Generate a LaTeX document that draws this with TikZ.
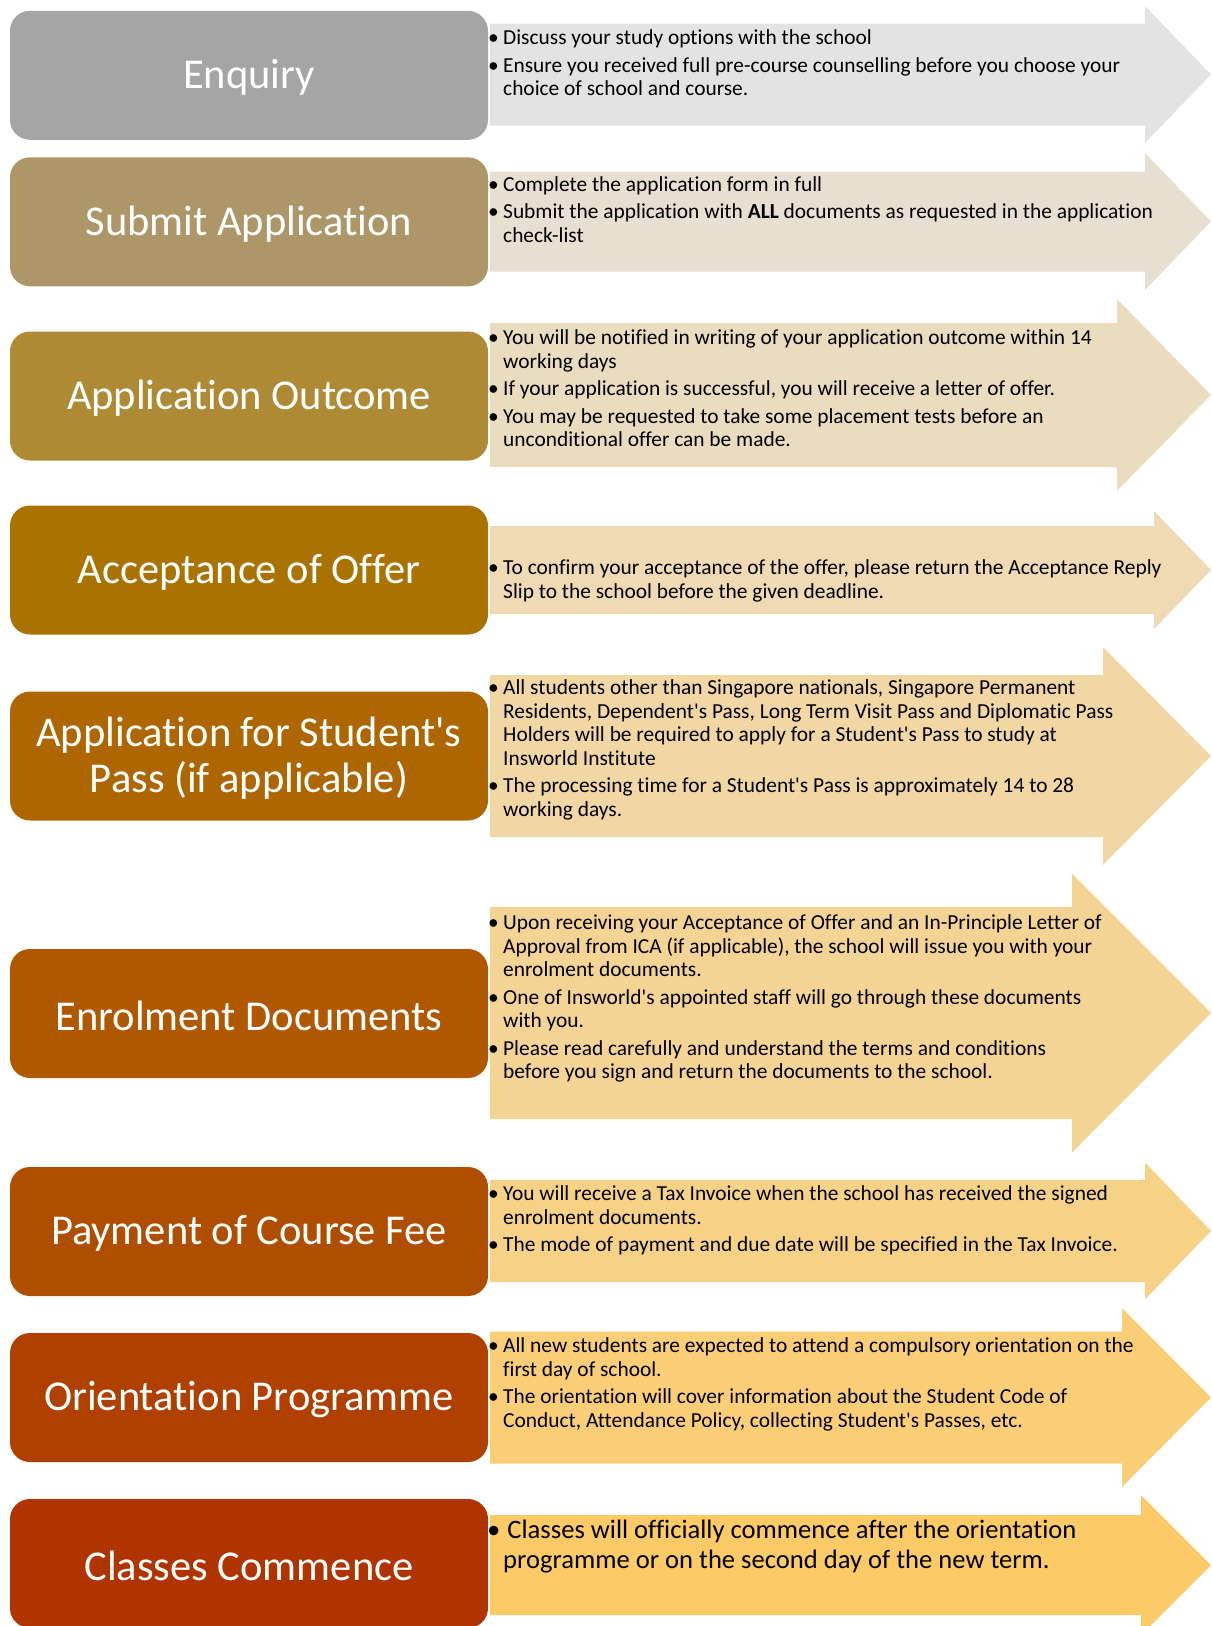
\documentclass[tikz,border=0pt]{standalone}
\usepackage{fontspec}
\setmainfont{Carlito}[Ligatures={TeXOff,CommonOff}]
\definecolor{b1}{HTML}{A5A5A5}
\definecolor{b2}{HTML}{AD9769}
\definecolor{b3}{HTML}{AE8A35}
\definecolor{b4}{HTML}{AA7300}
\definecolor{b5}{HTML}{AD6600}
\definecolor{b6}{HTML}{AF5800}
\definecolor{b7}{HTML}{B04E00}
\definecolor{b8}{HTML}{B04000}
\definecolor{b9}{HTML}{B03400}
\definecolor{a1}{HTML}{E3E3E3}
\definecolor{a2}{HTML}{E7DFD1}
\definecolor{a3}{HTML}{EADCBF}
\definecolor{a4}{HTML}{EFDAB3}
\definecolor{a5}{HTML}{F1D7A4}
\definecolor{a6}{HTML}{F3D494}
\definecolor{a7}{HTML}{F6D287}
\definecolor{a8}{HTML}{F9CE77}
\definecolor{a9}{HTML}{FCCA66}
\newcommand{\flowarrow}[5]{% color, cy, body half, head base x, head half
  \fill[#1] (490,#2-#3) -- (#4,#2-#3) -- (#4,#2-#5) -- (1211,#2) -- (#4,#2+#5) -- (#4,#2+#3) -- (490,#2+#3) -- cycle;}
\newcommand{\bl}{\makebox[15pt][l]{\textbullet}}
\begin{document}
\begin{tikzpicture}[x=1pt,y=-1pt,
  stepbox/.style={rounded corners=20pt, minimum width=478pt, minimum height=129pt, inner sep=0pt,
    text=white, align=center, font=\fontsize{42.5}{46}\selectfont},
  title/.style={text=white, align=center, inner sep=0pt, font=\fontsize{42.5}{46}\selectfont, yshift=-2pt},
  txt/.style={anchor=base west, inner sep=0pt, text=black, font=\fontsize{21.4}{23.5}\selectfont, yshift=-1.5pt}]
\useasboundingbox (0,0) rectangle (1211,1626);
% arrows
\flowarrow{a1}{74.5}{51}{1145}{68.5}
\flowarrow{a2}{221.5}{50}{1145}{68.5}
\flowarrow{a3}{395}{72}{1117}{96}
\flowarrow{a4}{570}{44}{1154}{59}
\flowarrow{a5}{756}{81}{1103}{109}
\flowarrow{a6}{1013}{106}{1072}{139.5}
\flowarrow{a7}{1231}{51}{1145}{68.5}
\flowarrow{a8}{1397.5}{66}{1122}{89.5}
\flowarrow{a9}{1565}{50}{1141}{70}
% boxes
\node[stepbox, fill=b1] (s1) at (249,75.3) {};
\node[stepbox, fill=b2] (s2) at (249,221.8) {};
\node[stepbox, fill=b3] (s3) at (249,396) {};
\node[stepbox, fill=b4] (s4) at (249,570) {};
\node[stepbox, fill=b5] (s5) at (249,756) {};
\node[stepbox, fill=b6] (s6) at (249,1013.5) {};
\node[stepbox, fill=b7] (s7) at (249,1231.5) {};
\node[stepbox, fill=b8] (s8) at (249,1397.5) {};
\node[stepbox, fill=b9] (s9) at (249,1563.5) {};
\node[title] (h1) at (s1) {Enquiry};
\node[title] (h2) at (s2) {Submit Application};
\node[title] (h3) at (s3) {Application Outcome};
\node[title] (h4) at (s4) {Acceptance of Offer};
\node[title] (h5) at (s5) {Application for Student's\\Pass (if applicable)};
\node[title] (h6) at (s6) {Enrolment Documents};
\node[title] (h7) at (s7) {Payment of Course Fee};
\node[title] (h8) at (s8) {Orientation Programme};
\node[title] (h9) at (s9) {Classes Commence};
% texts
\node[txt] (t1) at (488,43) {\begin{tabular}[t]{@{}l@{}l@{}}
\bl & Discuss your study options with the school\\[4pt]
\bl & Ensure you received full pre-course counselling before you choose your\\
 & choice of school and course.
\end{tabular}};
\node[txt] (t2) at (488,189.5) {\begin{tabular}[t]{@{}l@{}l@{}}
\bl & Complete the application form in full\\[4pt]
\bl & Submit the application with \textbf{ALL} documents as requested in the application\\
 & check-list
\end{tabular}};
\node[txt] (t3) at (488,343) {\begin{tabular}[t]{@{}l@{}l@{}}
\bl & You will be notified in writing of your application outcome within 14\\
 & working days\\[4pt]
\bl & If your application is successful, you will receive a letter of offer.\\[4pt]
\bl & You may be requested to take some placement tests before an\\
 & unconditional offer can be made.
\end{tabular}};
\node[txt] (t4) at (488,573) {\begin{tabular}[t]{@{}l@{}l@{}}
\bl & To confirm your acceptance of the offer, please return the Acceptance Reply\\
 & Slip to the school before the given deadline.
\end{tabular}};
\node[txt] (t5) at (488,693) {\begin{tabular}[t]{@{}l@{}l@{}}
\bl & All students other than Singapore nationals, Singapore Permanent\\
 & Residents, Dependent's Pass, Long Term Visit Pass and Diplomatic Pass\\
 & Holders will be required to apply for a Student's Pass to study at\\
 & Insworld Institute\\[4pt]
\bl & The processing time for a Student's Pass is approximately 14 to 28\\
 & working days.
\end{tabular}};
\node[txt] (t6) at (488,928) {\begin{tabular}[t]{@{}l@{}l@{}}
\bl & Upon receiving your Acceptance of Offer and an In-Principle Letter of\\
 & Approval from ICA (if applicable), the school will issue you with your\\
 & enrolment documents.\\[4pt]
\bl & One of Insworld's appointed staff will go through these documents\\
 & with you.\\[4pt]
\bl & Please read carefully and understand the terms and conditions\\
 & before you sign and return the documents to the school.
\end{tabular}};
\node[txt] (t7) at (488,1199) {\begin{tabular}[t]{@{}l@{}l@{}}
\bl & You will receive a Tax Invoice when the school has received the signed\\
 & enrolment documents.\\[4pt]
\bl & The mode of payment and due date will be specified in the Tax Invoice.
\end{tabular}};
\node[txt] (t8) at (488,1351) {\begin{tabular}[t]{@{}l@{}l@{}}
\bl & All new students are expected to attend a compulsory orientation on the\\
 & first day of school.\\[4pt]
\bl & The orientation will cover information about the Student Code of\\
 & Conduct, Attendance Policy, collecting Student's Passes, etc.
\end{tabular}};
\node[txt, font=\fontsize{26.6}{29.8}\selectfont] (t9) at (487,1537) {\begin{tabular}[t]{@{}l@{}}
\textbullet\hspace{7pt}Classes will officially commence after the orientation\\
\hspace*{16pt}programme or on the second day of the new term.
\end{tabular}};
\end{tikzpicture}
\end{document}
